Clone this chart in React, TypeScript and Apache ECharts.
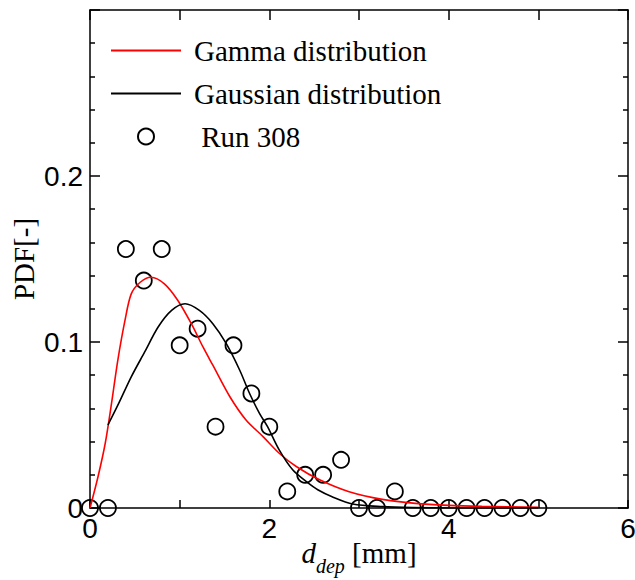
import React, { useEffect, useRef } from "react";
import * as echarts from "echarts";

const runX = [0, 0.2, 0.4, 0.6, 0.8, 1.0, 1.2, 1.4, 1.6, 1.8, 2.0, 2.2, 2.4, 2.6, 2.8, 3.0, 3.2, 3.4, 3.6, 3.8, 4.0, 4.2, 4.4, 4.6, 4.8, 5.0];
const runY = [0, 0, 0.156, 0.137, 0.156, 0.098, 0.108, 0.049, 0.098, 0.069, 0.049, 0.010, 0.020, 0.020, 0.029, 0, 0, 0.010, 0, 0, 0, 0, 0, 0, 0, 0];

const gammaX = [0, 0.09, 0.17, 0.24, 0.31, 0.39, 0.46, 0.56, 0.68, 0.83, 0.98, 1.13, 1.26, 1.37, 1.56, 1.74, 1.93, 2.11, 2.30, 2.56, 2.89, 3.26, 3.63, 4.0, 4.37, 5.0];
const gammaY = [0, 0.019, 0.039, 0.063, 0.089, 0.113, 0.129, 0.136, 0.139, 0.135, 0.125, 0.111, 0.097, 0.086, 0.067, 0.053, 0.043, 0.033, 0.025, 0.017, 0.0098, 0.0052, 0.0028, 0.0016, 0.001, 0.0004];

const gaussX = [0.2, 0.32, 0.46, 0.61, 0.76, 0.91, 1.06, 1.22, 1.37, 1.52, 1.67, 1.78, 1.89, 1.98, 2.11, 2.26, 2.41, 2.54, 2.70, 2.93, 3.26, 3.6, 4.0, 5.0];
const gaussY = [0.050, 0.063, 0.079, 0.094, 0.109, 0.119, 0.123, 0.119, 0.111, 0.099, 0.083, 0.069, 0.057, 0.049, 0.035, 0.023, 0.016, 0.011, 0.0068, 0.0024, 0.0008, 0.0002, 0, 0];

const seriesNames = ["Gamma distribution", "Gaussian distribution", " Run 308"];

const SANS = "'Liberation Sans', Arial, sans-serif";
const SERIF = "'Liberation Serif', 'Times New Roman', serif";

export default function App() {
  const ref = useRef<HTMLDivElement>(null);
  useEffect(() => {
    if (!ref.current) return;
    const chart = echarts.init(ref.current, undefined, { renderer: "svg" });
    const axisLine = { show: true, onZero: false, lineStyle: { color: "#000", width: 1.5 } };
    const tickLine = { color: "#000", width: 1.5 };
    chart.setOption({
      animation: false,
      backgroundColor: "#fff",
      grid: { left: 90, right: 7, top: 10, bottom: 72, containLabel: false, outerBoundsMode: "none" },
      legend: {
        orient: "vertical",
        left: 110,
        top: 36,
        padding: 0,
        itemWidth: 70,
        itemHeight: 16,
        itemGap: 14,
        data: [
          { name: seriesNames[0], itemStyle: { opacity: 0 } },
          { name: seriesNames[1], itemStyle: { opacity: 0 } },
          { name: seriesNames[2] },
        ],
        textStyle: { fontFamily: SERIF, fontSize: 29, color: "#000", padding: [0, 0, 0, 8] },
      },
      xAxis: [
        {
          type: "value",
          position: "bottom",
          min: 0,
          max: 6,
          interval: 2,
          axisLine,
          axisTick: { show: true, inside: true, length: 8, lineStyle: tickLine },
          minorTick: { show: true, splitNumber: 2, length: 8, lineStyle: tickLine },
          splitLine: { show: false },
          minorSplitLine: { show: false },
          axisLabel: { fontFamily: SANS, fontSize: 28, color: "#000", margin: 6 },
          name: "{d|d}{s|dep}{t| [mm]}",
          nameLocation: "middle",
          nameGap: 22,
          nameMoveOverlap: false,
          nameTextStyle: {
            rich: {
              d: { fontFamily: SERIF, fontStyle: "italic", fontSize: 29, color: "#000", lineHeight: 46, verticalAlign: "middle" },
              s: { fontFamily: SERIF, fontStyle: "italic", fontSize: 20, color: "#000", lineHeight: 46, verticalAlign: "bottom" },
              t: { fontFamily: SERIF, fontSize: 29, color: "#000", lineHeight: 46, verticalAlign: "middle" },
            },
          },
        },
        {
          type: "value",
          position: "top",
          min: 0,
          max: 6,
          interval: 1,
          axisLine,
          axisTick: { show: true, inside: true, length: 10, lineStyle: tickLine },
          axisLabel: { show: false },
          splitLine: { show: false },
        },
      ],
      yAxis: [
        {
          type: "value",
          position: "left",
          min: 0,
          max: 0.3,
          interval: 0.1,
          axisLine,
          axisTick: { show: true, inside: true, length: 10, lineStyle: tickLine },
          minorTick: { show: true, splitNumber: 5, length: 5, lineStyle: tickLine },
          splitLine: { show: false },
          minorSplitLine: { show: false },
          axisLabel: {
            fontFamily: SANS,
            fontSize: 28,
            color: "#000",
            margin: 7,
            formatter: (v: number) => (v > 0.29 ? "" : String(Math.round(v * 10) / 10)),
          },
          name: "PDF[-]",
          nameLocation: "middle",
          nameRotate: 90,
          nameGap: 52,
          nameMoveOverlap: false,
          nameTextStyle: { fontFamily: SERIF, fontSize: 29, color: "#000" },
        },
        {
          type: "value",
          position: "right",
          min: 0,
          max: 0.3,
          interval: 0.1,
          axisLine,
          axisTick: { show: true, inside: true, length: 10, lineStyle: tickLine },
          minorTick: { show: true, splitNumber: 5, length: 5, lineStyle: tickLine },
          splitLine: { show: false },
          minorSplitLine: { show: false },
          axisLabel: { show: false },
        },
      ],
      series: [
        {
          name: seriesNames[0],
          type: "line",
          xAxisIndex: 0,
          yAxisIndex: 0,
          data: gammaX.map((x, i) => [x, gammaY[i]]),
          symbol: "none",
          smooth: 0.3,
          lineStyle: { color: "#ff0000", width: 1.6 },
          itemStyle: { color: "#ff0000" },
          z: 3,
        },
        {
          name: seriesNames[1],
          type: "line",
          xAxisIndex: 0,
          yAxisIndex: 0,
          data: gaussX.map((x, i) => [x, gaussY[i]]),
          symbol: "none",
          smooth: 0.3,
          lineStyle: { color: "#000", width: 1.6 },
          itemStyle: { color: "#000" },
          z: 3,
        },
        {
          name: seriesNames[2],
          type: "scatter",
          xAxisIndex: 0,
          yAxisIndex: 0,
          data: runX.map((x, i) => [x, runY[i]]),
          symbol: "circle",
          symbolSize: 16,
          clip: false,
          itemStyle: { color: "rgba(0,0,0,0)", borderColor: "#000", borderWidth: 1.8, opacity: 1 },
          z: 2,
        },
      ],
    });
    return () => chart.dispose();
  }, []);
  return <div ref={ref} style={{ width: 635, height: 580, position: "absolute", left: 0, top: 0 }} />;
}
